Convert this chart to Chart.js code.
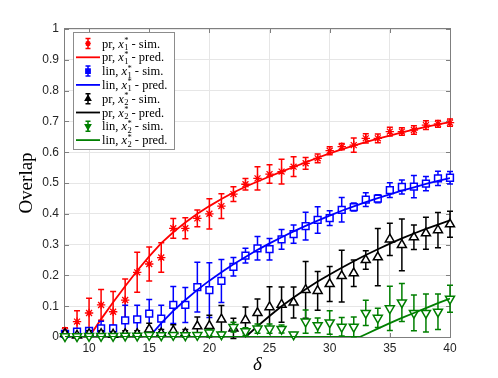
<!DOCTYPE html>
<html>
<head>
<meta charset="utf-8">
<title>Overlap vs delta</title>
<script src="https://cdn.jsdelivr.net/npm/chart.js@4.4.0/dist/chart.umd.min.js"></script>
<style>
  html, body { margin: 0; padding: 0; background: #fff; }
  #wrap { width: 498px; height: 378px; }
</style>
</head>
<body>
<div id="wrap"><canvas id="chart" width="498" height="378"></canvas></div>
<script>
// delta values of the simulations
const delta = [8, 9, 10, 11, 12, 13, 14, 15, 16, 17, 18, 19, 20, 21, 22, 23, 24,
  25, 26, 27, 28, 29, 30, 31, 32, 33, 34, 35, 36, 37, 38, 39, 40];

// pr, x1* - sim.
const prX1Sim = [0.020, 0.050, 0.078, 0.104, 0.082, 0.120, 0.210, 0.237, 0.258,
  0.353, 0.353, 0.385, 0.400, 0.425, 0.464, 0.496, 0.515,
  0.529, 0.537, 0.553, 0.564, 0.580, 0.605, 0.618, 0.623,
  0.645, 0.645, 0.667, 0.667, 0.672, 0.688, 0.692, 0.696];
const prX1Err = [0.010, 0.035, 0.048, 0.050, 0.066, 0.068, 0.065, 0.055, 0.048,
  0.032, 0.034, 0.027, 0.049, 0.040, 0.024, 0.019, 0.038,
  0.030, 0.040, 0.032, 0.019, 0.014, 0.013, 0.010, 0.023,
  0.015, 0.014, 0.014, 0.012, 0.014, 0.014, 0.011, 0.012];

// lin, x1* - sim.
const linX1Sim = [0.010, 0.017, 0.020, 0.028, 0.028, 0.054, 0.057, 0.076, 0.060,
  0.104, 0.104, 0.162, 0.152, 0.182, 0.228, 0.264, 0.288,
  0.285, 0.317, 0.334, 0.360, 0.380, 0.386, 0.413, 0.422,
  0.446, 0.449, 0.477, 0.487, 0.488, 0.498, 0.515, 0.517];
const linX1Err = [0.008, 0.008, 0.010, 0.023, 0.010, 0.049, 0.046, 0.046, 0.043,
  0.060, 0.057, 0.081, 0.089, 0.070, 0.030, 0.024, 0.038,
  0.035, 0.032, 0.030, 0.045, 0.043, 0.024, 0.040, 0.013,
  0.022, 0.013, 0.024, 0.023, 0.036, 0.023, 0.023, 0.020];

// pr, x2* - sim.
const prX2Sim = [0.010, 0.005, 0.010, 0.010, 0.008, 0.010, 0.010, 0.025, 0.012,
  0.020, 0.012, 0.035, 0.036, 0.057, 0.028, 0.055, 0.078,
  0.097, 0.105, 0.112, 0.153, 0.150, 0.172, 0.198, 0.207,
  0.250, 0.259, 0.317, 0.299, 0.324, 0.337, 0.347, 0.366];
const prX2Err = [0.008, 0.005, 0.010, 0.010, 0.008, 0.010, 0.010, 0.020, 0.012,
  0.020, 0.012, 0.030, 0.035, 0.045, 0.033, 0.042, 0.045,
  0.066, 0.057, 0.050, 0.092, 0.063, 0.057, 0.084, 0.043,
  0.030, 0.093, 0.052, 0.084, 0.040, 0.052, 0.057, 0.042];

// lin, x2* - sim.
const linX2Sim = [0.002, 0.002, 0.003, 0.003, 0.003, 0.004, 0.004, 0.006, 0.005,
  0.006, 0.005, 0.006, 0.014, 0.008, 0.032, 0.018, 0.027,
  0.027, 0.026, 0.008, 0.050, 0.038, 0.047, 0.033, 0.033,
  0.078, 0.062, 0.093, 0.112, 0.078, 0.078, 0.082, 0.124];
const linX2Err = [0.005, 0.005, 0.005, 0.005, 0.005, 0.005, 0.005, 0.006, 0.005,
  0.006, 0.005, 0.006, 0.010, 0.008, 0.016, 0.012, 0.015,
  0.015, 0.013, 0.007, 0.038, 0.024, 0.038, 0.030, 0.032,
  0.041, 0.031, 0.072, 0.062, 0.058, 0.062, 0.058, 0.044];

// predictions (zero until the onset, then the curve)
const prX1PredX = [8, 10, 11, 12, 13, 14, 15, 16, 17, 18, 19, 20, 21, 22, 23, 24, 25,
  26, 27, 28, 29, 30, 31, 32, 33, 34, 35, 36, 37, 38, 39, 40];
const prX1PredY = [0, 0, 0.058, 0.113, 0.165, 0.215, 0.262, 0.305, 0.340, 0.372, 0.400,
  0.425, 0.448, 0.469, 0.488, 0.505, 0.521, 0.537, 0.552, 0.567, 0.582, 0.596,
  0.609, 0.621, 0.633, 0.644, 0.654, 0.664, 0.673, 0.682, 0.690, 0.698];

const linX1PredX = [8, 15, 16, 17, 18, 19, 20, 21, 22, 23, 24, 25, 26, 27, 28, 29, 30,
  31, 32, 33, 34, 35, 36, 37, 38, 39, 40];
const linX1PredY = [0, 0, 0.045, 0.085, 0.120, 0.153, 0.183, 0.210, 0.236, 0.260, 0.283,
  0.304, 0.324, 0.343, 0.361, 0.378, 0.394, 0.410, 0.424, 0.438, 0.451, 0.463,
  0.475, 0.486, 0.497, 0.507, 0.516];

const prX2PredX = [8, 23, 24, 25, 26, 27, 28, 29, 30, 31, 32, 33, 34, 35, 36, 37, 38, 39, 40];
const prX2PredY = [0, 0, 0.035, 0.068, 0.100, 0.128, 0.155, 0.180, 0.203, 0.225, 0.246,
  0.266, 0.285, 0.303, 0.320, 0.336, 0.351, 0.365, 0.379];

const linX2PredX = [8, 32.5, 33, 34, 35, 36, 37, 38, 39, 40];
const linX2PredY = [0, 0, 0.009, 0.027, 0.045, 0.062, 0.078, 0.094, 0.110, 0.125];

const xTicks = [10, 15, 20, 25, 30, 35, 40];
const yTicks = [0, 0.1, 0.2, 0.3, 0.4, 0.5, 0.6, 0.7, 0.8, 0.9, 1];
const yTickLabels = ['0', '0.1', '0.2', '0.3', '0.4', '0.5', '0.6', '0.7', '0.8', '0.9', '1'];

const red = '#ff0000', blue = '#0000ff', black = '#000000', green = '#007f00';

const zip = (xs, ys) => xs.map((x, i) => ({ x: x, y: ys[i] }));

function simSet(method, sub, values, errors, color, style, rotation, radius) {
  return {
    label: method + ', x' + sub + '* - sim.',
    method: method, sub: sub, kind: 'sim', color: color,
    data: zip(delta, values),
    errors: errors,
    showLine: false,
    pointStyle: style,
    pointRotation: rotation,
    pointRadius: radius,
    pointHoverRadius: radius,
    pointBorderColor: color,
    pointBackgroundColor: style === 'star' ? color : '#ffffff',
    pointBorderWidth: style === 'star' ? 1.3 : 1.5,
    clip: false
  };
}

function predSet(method, sub, xs, ys, color) {
  return {
    label: method + ', x' + sub + '* - pred.',
    method: method, sub: sub, kind: 'pred', color: color,
    data: zip(xs, ys),
    showLine: true,
    borderColor: color,
    borderWidth: 1.8,
    pointRadius: 0,
    tension: 0
  };
}

const datasets = [
  simSet('pr', '1', prX1Sim, prX1Err, red, 'star', 0, 4.2),
  predSet('pr', '1', prX1PredX, prX1PredY, red),
  simSet('lin', '1', linX1Sim, linX1Err, blue, 'rect', 0, 4.8),
  predSet('lin', '1', linX1PredX, linX1PredY, blue),
  simSet('pr', '2', prX2Sim, prX2Err, black, 'triangle', 0, 5.2),
  predSet('pr', '2', prX2PredX, prX2PredY, black),
  simSet('lin', '2', linX2Sim, linX2Err, green, 'triangle', 180, 5.2),
  predSet('lin', '2', linX2PredX, linX2PredY, green)
];
// later series on top, like the plotting order
datasets.forEach((ds, i) => { ds.order = datasets.length - 1 - i; });

// error bars drawn just before each dataset's markers
const errorBarPlugin = {
  id: 'errorBars',
  beforeDatasetDraw(chart, args) {
    const ds = chart.data.datasets[args.index];
    if (!ds.errors) return;
    const ctx = chart.ctx;
    const x = chart.scales.x, y = chart.scales.y;
    ctx.save();
    ctx.strokeStyle = ds.color;
    ctx.lineWidth = 1.5;
    ds.data.forEach((p, i) => {
      const px = x.getPixelForValue(p.x);
      const top = y.getPixelForValue(p.y + ds.errors[i]);
      const bot = y.getPixelForValue(p.y - ds.errors[i]);
      ctx.beginPath();
      ctx.moveTo(px, top); ctx.lineTo(px, bot);
      ctx.moveTo(px - 3, top); ctx.lineTo(px + 3, top);
      ctx.moveTo(px - 3, bot); ctx.lineTo(px + 3, bot);
      ctx.stroke();
    });
    ctx.restore();
  }
};

// box with inward ticks, matlab style
const framePlugin = {
  id: 'frame',
  beforeDatasetsDraw(chart) {
    const { ctx, chartArea: a } = chart;
    const x = chart.scales.x, y = chart.scales.y;
    ctx.save();
    ctx.strokeStyle = '#7f7f7f';
    ctx.lineWidth = 1;
    ctx.strokeRect(a.left - 0.5, a.top - 0.5, a.right - a.left + 1, a.bottom - a.top + 1);
    ctx.beginPath();
    xTicks.forEach(v => {
      const px = Math.round(x.getPixelForValue(v)) + 0.5;
      ctx.moveTo(px, a.bottom); ctx.lineTo(px, a.bottom - 4);
      ctx.moveTo(px, a.top); ctx.lineTo(px, a.top + 4);
    });
    yTicks.forEach(v => {
      const py = Math.round(y.getPixelForValue(v)) + 0.5;
      ctx.moveTo(a.left, py); ctx.lineTo(a.left + 4, py);
      ctx.moveTo(a.right, py); ctx.lineTo(a.right - 4, py);
    });
    ctx.stroke();
    ctx.restore();
  }
};

// legend with x_1^* style labels
const legendPlugin = {
  id: 'mathLegend',
  afterDraw(chart) {
    const ctx = chart.ctx;
    ctx.save();
    ctx.fillStyle = '#ffffff';
    ctx.fillRect(73.5, 32.5, 101, 117);
    ctx.strokeStyle = '#8c8c8c';
    ctx.lineWidth = 1;
    ctx.strokeRect(73.5, 32.5, 101, 117);

    chart.data.datasets.forEach((ds, i) => {
      const cy = 43.5 + i * 13.8;
      const cx = 88;
      ctx.strokeStyle = ds.color;
      ctx.fillStyle = ds.color;
      if (ds.kind === 'pred') {
        ctx.lineWidth = 1.8;
        ctx.beginPath();
        ctx.moveTo(76, cy); ctx.lineTo(100, cy);
        ctx.stroke();
      } else {
        ctx.lineWidth = 1.5;
        ctx.beginPath();
        ctx.moveTo(cx, cy - 5); ctx.lineTo(cx, cy + 5);
        ctx.moveTo(cx - 2.5, cy - 5); ctx.lineTo(cx + 2.5, cy - 5);
        ctx.moveTo(cx - 2.5, cy + 5); ctx.lineTo(cx + 2.5, cy + 5);
        ctx.stroke();
        Chart.helpers.drawPoint(ctx, {
          pointStyle: ds.pointStyle,
          rotation: ds.pointRotation || 0,
          radius: ds.pointStyle === 'star' ? 2.8 : 3,
          borderWidth: ds.pointStyle === 'star' ? 1.2 : 1.5
        }, cx, cy);
      }

      let tx = 102;
      const ty = cy + 4;
      ctx.fillStyle = '#000000';
      ctx.textBaseline = 'alphabetic';
      ctx.textAlign = 'left';
      ctx.font = '12.5px "Liberation Serif"';
      const head = ds.method + ', ';
      ctx.fillText(head, tx, ty);
      tx += ctx.measureText(head).width;
      ctx.font = 'italic 12.5px "Liberation Serif"';
      ctx.fillText('x', tx, ty);
      tx += ctx.measureText('x').width + 0.5;
      ctx.font = '8.5px "Liberation Serif"';
      ctx.fillText('*', tx, ty - 4.5);
      ctx.fillText(ds.sub, tx, ty + 2.5);
      tx += ctx.measureText(ds.sub).width;
      ctx.font = '12.5px "Liberation Serif"';
      ctx.fillText(ds.kind === 'sim' ? ' - sim.' : ' - pred.', tx, ty);
    });
    ctx.restore();
  }
};

new Chart(document.getElementById('chart'), {
  type: 'scatter',
  data: { datasets: datasets },
  options: {
    responsive: false,
    devicePixelRatio: 1,
    animation: false,
    events: [],
    layout: { padding: { left: 0, right: 48, top: 29, bottom: 0 } },
    plugins: {
      legend: { display: false },
      tooltip: { enabled: false }
    },
    scales: {
      x: {
        type: 'linear',
        min: 8,
        max: 40,
        afterBuildTicks: (s) => { s.ticks = xTicks.map(v => ({ value: v })); },
        afterFit: (s) => { s.height = 41; },
        grid: { color: '#e6e6e6', drawTicks: false },
        border: { display: false },
        ticks: {
          padding: 4,
          color: '#262626',
          font: { family: 'Liberation Sans', size: 12 }
        },
        title: {
          display: true,
          text: 'δ',
          color: '#000000',
          padding: { top: 0, bottom: 2 },
          font: { family: 'Liberation Serif', size: 19, style: 'italic' }
        }
      },
      y: {
        min: 0,
        max: 1,
        afterBuildTicks: (s) => { s.ticks = yTicks.map(v => ({ value: v })); },
        afterFit: (s) => { s.width = 65; },
        grid: { color: '#e6e6e6', drawTicks: false },
        border: { display: false },
        ticks: {
          padding: 6,
          color: '#262626',
          font: { family: 'Liberation Sans', size: 12 },
          callback: (v) => yTickLabels[yTicks.indexOf(v)]
        },
        title: {
          display: true,
          text: 'Overlap',
          color: '#000000',
          padding: { top: 15.6, bottom: 0 },
          font: { family: 'Liberation Serif', size: 19 }
        }
      }
    }
  },
  plugins: [errorBarPlugin, framePlugin, legendPlugin]
});
</script>
</body>
</html>
